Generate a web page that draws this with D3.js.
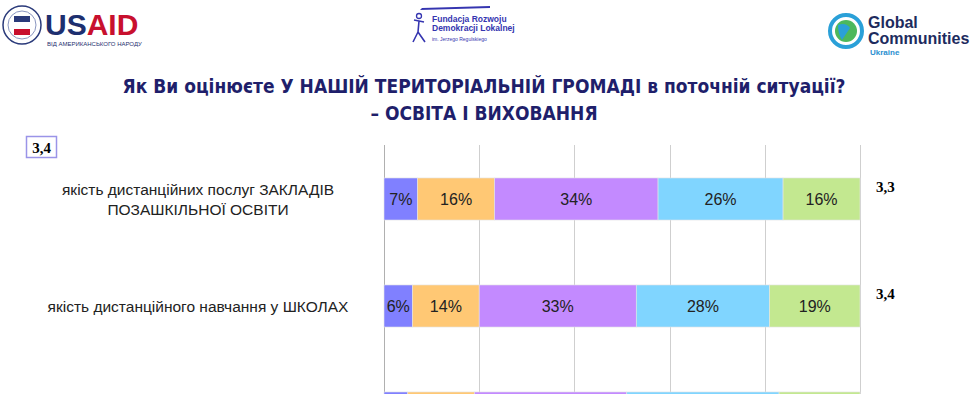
<!DOCTYPE html>
<html>
<head>
	<meta charset="utf-8">
	<script src="https://cdn.jsdelivr.net/npm/d3@7"></script>
	<style>
		body { margin: 0; background: white; }
		svg { display: block; }
	</style>
</head>
<body>
	<script>
		// data
		var categories = [
			["якість дистанційних послуг ЗАКЛАДІВ", "ПОЗАШКІЛЬНОЇ ОСВІТИ"],
			["якість дистанційного навчання у ШКОЛАХ"],
			["якість дистанційних послуг ДИТЯЧИХ САДКІВ"]
		];
		var share1 = [7, 6, 5];   // дуже погано
		var share2 = [16, 14, 14];
		var share3 = [34, 33, 32];
		var share4 = [26, 28, 32];
		var share5 = [16, 19, 17]; // дуже добре
		var averages = ["3,3", "3,4", "3,4"];
		var overall = "3,4";
		var ticks = [0, 20, 40, 60, 80, 100];
		var titleLines = ["Як Ви оцінюєте У НАШІЙ ТЕРИТОРІАЛЬНІЙ ГРОМАДІ в поточній ситуації?", "– ОСВІТА І ВИХОВАННЯ"];

		var colors = ["#8080ff", "#ffc874", "#c38aff", "#80d5ff", "#c3e890"];
		var series = [share1, share2, share3, share4, share5];

		var width = 972, height = 394;

		var svg = d3.select("body").append("svg")
			.attr("width", width)
			.attr("height", height);

		/* logos */
		var usaid = svg.append("g");
		usaid.append("circle").attr("cx", 22).attr("cy", 25).attr("r", 19)
			.attr("fill", "white").attr("stroke", "#2a3a7a").attr("stroke-width", 1.5);
		usaid.append("circle").attr("cx", 22).attr("cy", 25).attr("r", 14)
			.attr("fill", "none").attr("stroke", "#8a96c0").attr("stroke-width", 1);
		usaid.append("rect").attr("x", 14).attr("y", 16).attr("width", 16).attr("height", 6).attr("fill", "#2a3a7a");
		usaid.append("rect").attr("x", 14).attr("y", 29).attr("width", 16).attr("height", 6).attr("fill", "#c8102e");
		usaid.append("text").attr("x", 45).attr("y", 35)
			.style("font-family", "Liberation Sans, Arial, sans-serif")
			.style("font-weight", "bold").style("font-size", "30px")
			.call(function(t) {
				t.append("tspan").attr("fill", "#1d2f6f").text("US");
				t.append("tspan").attr("fill", "#c8102e").text("AID");
			});
		usaid.append("text").attr("x", 47).attr("y", 46)
			.style("font-family", "Liberation Sans Narrow, Liberation Sans, sans-serif")
			.style("font-size", "6px").attr("fill", "#1d2f6f")
			.text("ВІД АМЕРИКАНСЬКОГО НАРОДУ");

		var frdl = svg.append("g").attr("fill", "#3535b0");
		frdl.append("path").attr("d", "M422,8 L490,6 L490,8 L420,10 Z");
		frdl.append("circle").attr("cx", 419).attr("cy", 16).attr("r", 2.5)
			.attr("fill", "none").attr("stroke", "#3535b0").attr("stroke-width", 1.3);
		frdl.append("path").attr("d", "M414,20 L424,22 M419,21 L418,32 M418,32 L413,42 M418,32 L425,42")
			.attr("fill", "none").attr("stroke", "#3535b0").attr("stroke-width", 1.6);
		var frdlText = ["Fundacja Rozwoju", "Demokracji Lokalnej"];
		frdl.selectAll("text.f").data(frdlText).enter().append("text")
			.attr("x", 432).attr("y", function(d, i) { return 22 + i * 9; })
			.style("font-family", "Liberation Sans, sans-serif").style("font-size", "8.5px")
			.style("font-weight", "bold").text(function(d) { return d; });
		frdl.append("text").attr("x", 432).attr("y", 41)
			.style("font-family", "Liberation Sans, sans-serif").style("font-size", "5px")
			.text("im. Jerzego Regulskiego");

		var gc = svg.append("g");
		gc.append("circle").attr("cx", 846).attr("cy", 31).attr("r", 16)
			.attr("fill", "none").attr("stroke", "#2aa0d8").attr("stroke-width", 4);
		gc.append("circle").attr("cx", 846).attr("cy", 31).attr("r", 11).attr("fill", "#4cb85c");
		gc.append("path").attr("d", "M838,25 Q846,22 850,28 Q846,34 842,40 Q838,34 838,25 Z").attr("fill", "#2aa0d8");
		gc.selectAll("text.g").data(["Global", "Communities"]).enter().append("text")
			.attr("x", 868).attr("y", function(d, i) { return 28 + i * 16; })
			.style("font-family", "Liberation Sans, sans-serif").style("font-size", "16px")
			.style("font-weight", "bold").attr("fill", "#1d2b5e").text(function(d) { return d; });
		gc.append("text").attr("x", 870).attr("y", 55)
			.style("font-family", "Liberation Sans, sans-serif").style("font-size", "8px")
			.style("font-weight", "bold").attr("fill", "#2a8fd0").text("Ukraine");

		/* title */
		svg.selectAll("text.title").data(titleLines).enter().append("text")
			.attr("class", "title")
			.attr("x", 484).attr("y", function(d, i) { return 93 + i * 27; })
			.attr("text-anchor", "middle")
			.attr("fill", "#1f1f6b")
			.style("font-family", "Liberation Sans Narrow, DejaVu Sans Condensed, sans-serif")
			.style("font-weight", "bold").style("font-size", "19px")
			.text(function(d) { return d; });

		/* overall score box */
		svg.append("rect").attr("x", 26.5).attr("y", 136.5).attr("width", 30).attr("height", 21)
			.attr("fill", "white").attr("stroke", "#9a94e8").attr("stroke-width", 1.5);
		svg.append("text").attr("x", 41.5).attr("y", 153)
			.attr("text-anchor", "middle")
			.style("font-family", "Liberation Serif, serif").style("font-weight", "bold").style("font-size", "15px")
			.text(overall);

		/* scales */
		var x = d3.scaleLinear().domain([0, 100]).range([384, 860]);
		var y = d3.scaleBand().domain(d3.range(categories.length))
			.range([145.5, 145.5 + 3 * 107])
			.paddingInner(0.607).paddingOuter(0.3035);

		// only rows whose centre is inside the slide get text (the third row is cut off)
		function visible(i) { return y(i) + y.bandwidth() / 2 < height; }

		// grid
		svg.append("g").selectAll("line").data(ticks).enter().append("line")
			.attr("x1", function(d) { return Math.round(x(d)) + 0.5; })
			.attr("x2", function(d) { return Math.round(x(d)) + 0.5; })
			.attr("y1", 145).attr("y2", height)
			.attr("stroke", function(d) { return d == 0 ? "#b0b0b0" : "#cfcfcf"; })
			.attr("stroke-width", 1);

		// stacked rows
		var rows = categories.map(function(c, i) {
			var vals = series.map(function(s) { return s[i]; });
			var total = d3.sum(vals), acc = 0;
			return vals.map(function(v, k) {
				var seg = { row: i, k: k, v: v, x0: acc / total * 100 };
				acc += v;
				seg.x1 = acc / total * 100;
				return seg;
			});
		});
		var segs = d3.merge(rows);

		svg.append("g").selectAll("rect").data(segs).enter().append("rect")
			.attr("x", function(d) { return x(d.x0); })
			.attr("width", function(d) { return x(d.x1) - x(d.x0); })
			.attr("y", function(d) { return y(d.row); })
			.attr("height", y.bandwidth())
			.attr("fill", function(d) { return colors[d.k]; })
			.attr("stroke", "#e4e4e4").attr("stroke-width", 0.6);

		svg.append("g").selectAll("text").data(segs.filter(function(d) { return visible(d.row); }))
			.enter().append("text")
			.attr("x", function(d) { return (x(d.x0) + x(d.x1)) / 2; })
			.attr("y", function(d) { return y(d.row) + y.bandwidth() / 2 + 6; })
			.attr("text-anchor", "middle")
			.attr("fill", "#222")
			.style("font-family", "Liberation Sans, Arial, sans-serif").style("font-size", "16px")
			.text(function(d) { return d.v + "%"; });

		// category labels
		var labels = svg.append("g").selectAll("text")
			.data(categories.filter(function(c, i) { return visible(i); }))
			.enter().append("text")
			.attr("text-anchor", "middle")
			.attr("fill", "#222")
			.style("font-family", "Liberation Sans, Arial, sans-serif").style("font-size", "15.5px");
		labels.each(function(lines, i) {
			var cy = y(i) + y.bandwidth() / 2;
			var top = cy - (lines.length - 1) * 10 + 5.5;
			d3.select(this).selectAll("tspan").data(lines).enter().append("tspan")
				.attr("x", 198)
				.attr("y", function(d, j) { return top + j * 20; })
				.text(function(d) { return d; });
		});

		// averages
		svg.append("g").selectAll("text")
			.data(averages.filter(function(a, i) { return visible(i); }))
			.enter().append("text")
			.attr("x", 876)
			.attr("y", function(d, i) { return y(i) + 14; })
			.style("font-family", "Liberation Serif, serif").style("font-weight", "bold").style("font-size", "15px")
			.text(function(d) { return d; });
	</script>
</body>
</html>
